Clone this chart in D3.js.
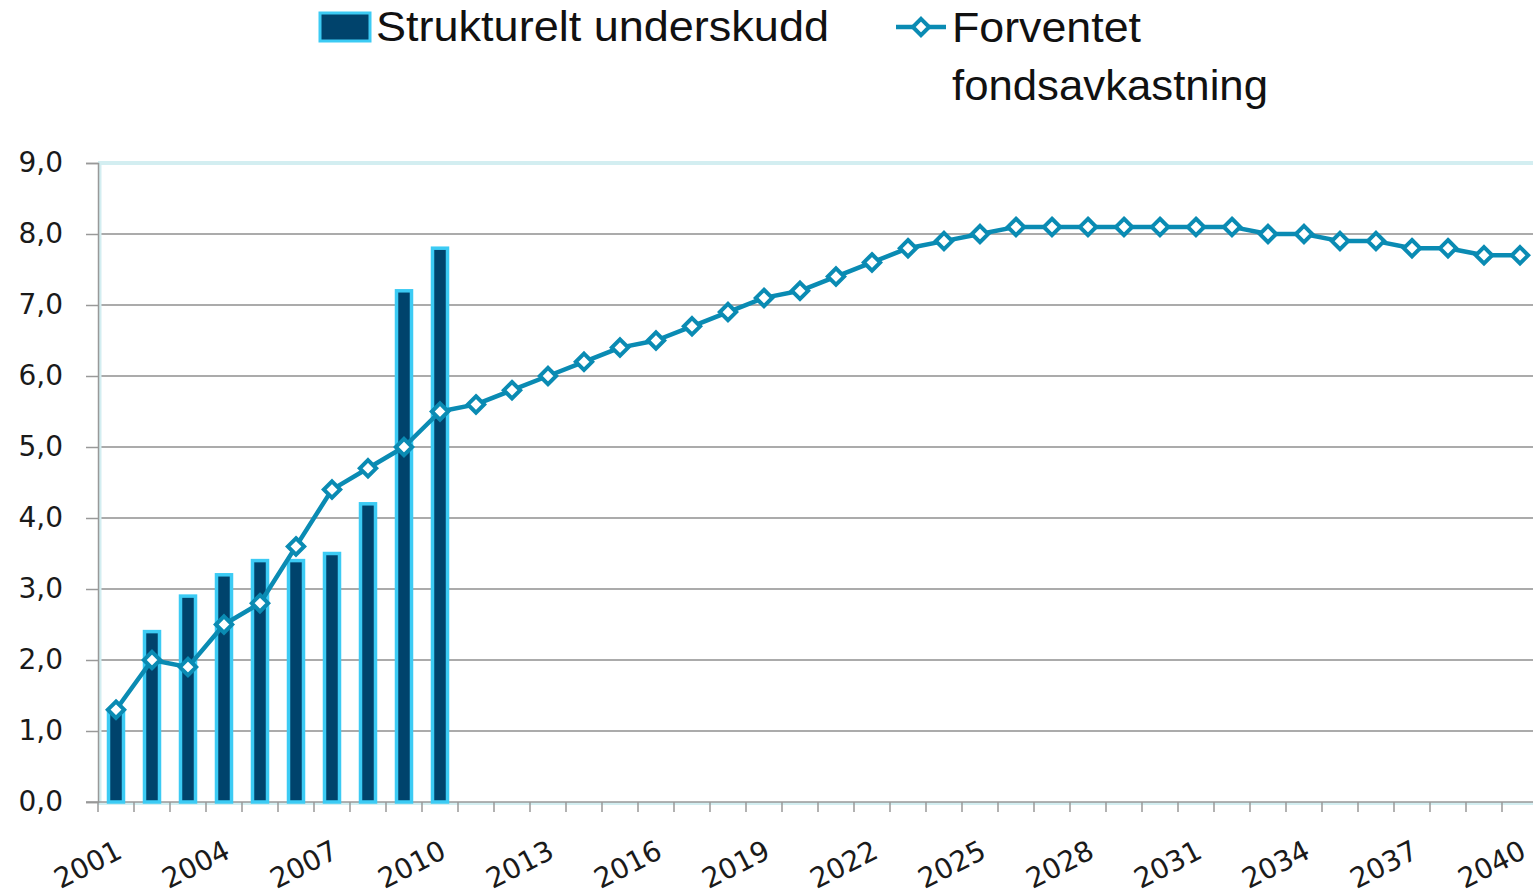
<!DOCTYPE html>
<html>
<head>
<meta charset="utf-8">
<script src="https://cdn.jsdelivr.net/npm/d3@7"></script>
<style>
  html, body { margin: 0; padding: 0; background: #fff; overflow: hidden; }
  svg { display: block; }
  .tick text { font-family: "DejaVu Sans", Verdana, sans-serif; font-size: 28px; fill: #1a1a1a; }
  .legend text { font-family: "Liberation Sans Narrow", "Liberation Sans", Arial, sans-serif; font-size: 42px; fill: #111; }
</style>
</head>
<body>
<div id="chart"></div>
<script>
// chart data
const years = d3.range(2001, 2041).map(String);
const underskudd = [1.3, 2.4, 2.9, 3.2, 3.4, 3.4, 3.5, 4.2, 7.2, 7.8];
const fondsavkastning = [
    1.3, 2.0, 1.9, 2.5, 2.8, 3.6, 4.4, 4.7, 5.0, 5.5,
    5.6, 5.8, 6.0, 6.2, 6.4, 6.5, 6.7, 6.9, 7.1, 7.2,
    7.4, 7.6, 7.8, 7.9, 8.0, 8.1, 8.1, 8.1, 8.1, 8.1,
    8.1, 8.1, 8.0, 8.0, 7.9, 7.9, 7.8, 7.8, 7.7, 7.7
];
const yTicks = [0, 1, 2, 3, 4, 5, 6, 7, 8, 9];
const xTickLabels = years.filter((y, i) => i % 3 === 0);
const legendBar = "Strukturelt underskudd";
const legendLine = ["Forventet", "fondsavkastning"];

const width = 1533, height = 896;
const margin = { top: 163, left: 98, bottom: 94 };
const plotRight = 1538;

const barFill = "#00436c", barStroke = "#3ccbf4", lineColor = "#0a8bb3";

const svg = d3.select("#chart").append("svg")
    .attr("width", width)
    .attr("height", height);

const x = d3.scaleBand()
    .domain(years)
    .range([margin.left, plotRight])
    .padding(0);

const y = d3.scaleLinear()
    .domain([0, 9])
    .range([height - margin.bottom, margin.top]);

// gridlines
svg.append("g")
    .selectAll("line")
    .data(yTicks.slice(1, -1))
    .enter().append("line")
    .attr("x1", margin.left).attr("x2", plotRight)
    .attr("y1", d => y(d)).attr("y2", d => y(d))
    .attr("stroke", "#8f8f8f").attr("stroke-width", 1.3);

// plot area border (light)
svg.append("line")
    .attr("x1", margin.left).attr("x2", plotRight)
    .attr("y1", y(9)).attr("y2", y(9))
    .attr("stroke", "#d3eef1").attr("stroke-width", 4);
svg.append("line")
    .attr("x1", margin.left + 2).attr("x2", margin.left + 2)
    .attr("y1", y(9)).attr("y2", y(0))
    .attr("stroke", "#d3eef1").attr("stroke-width", 3);
svg.append("line")
    .attr("x1", margin.left).attr("x2", plotRight)
    .attr("y1", y(0) + 1.5).attr("y2", y(0) + 1.5)
    .attr("stroke", "#d3eef1").attr("stroke-width", 3);

// Y axis
const yAxis = svg.append("g")
    .attr("transform", `translate(${margin.left},0)`)
    .call(d3.axisLeft(y).tickValues(yTicks).tickFormat(d => d3.format(".1f")(d).replace(".", ",")).tickSize(12).tickPadding(23));
yAxis.select(".domain").attr("stroke", "#999").attr("stroke-width", 1.5);
yAxis.selectAll(".tick line").attr("stroke", "#999").attr("stroke-width", 1.5);

// X axis: ticks at category boundaries
const xAxis = svg.append("g")
    .attr("transform", `translate(0,${y(0)})`);
xAxis.append("line")
    .attr("x1", margin.left - 12).attr("x2", plotRight)
    .attr("stroke", "#999").attr("stroke-width", 1.5);
xAxis.selectAll(".xtick")
    .data(years)
    .enter().append("line")
    .attr("class", "xtick")
    .attr("x1", d => x(d)).attr("x2", d => x(d))
    .attr("y1", 0).attr("y2", 10)
    .attr("stroke", "#999").attr("stroke-width", 1.5);
xAxis.selectAll(".xlab")
    .data(xTickLabels)
    .enter().append("g")
    .attr("class", "tick")
    .attr("transform", d => `translate(${x(d) + x.bandwidth() / 2 + 8},${55}) rotate(-27)`)
    .append("text")
    .attr("text-anchor", "end")
    .text(d => d);

// Bars
const barW = 15;
svg.append("g")
    .selectAll("rect")
    .data(underskudd)
    .enter().append("rect")
    .attr("x", (d, i) => x(years[i]) + x.bandwidth() / 2 - barW / 2)
    .attr("y", d => y(d))
    .attr("width", barW)
    .attr("height", d => y(0) - y(d))
    .attr("fill", barFill)
    .attr("stroke", barStroke)
    .attr("stroke-width", 3.5);

// Line
const line = d3.line()
    .x((d, i) => x(years[i]) + x.bandwidth() / 2)
    .y(d => y(d));

svg.append("path")
    .datum(fondsavkastning)
    .attr("fill", "none")
    .attr("stroke", lineColor)
    .attr("stroke-width", 4.5)
    .attr("stroke-linejoin", "round")
    .attr("d", line);

const diamond = d3.symbol().type(d3.symbolDiamond2).size(170);
svg.append("g")
    .selectAll("path")
    .data(fondsavkastning)
    .enter().append("path")
    .attr("d", diamond)
    .attr("transform", (d, i) => `translate(${x(years[i]) + x.bandwidth() / 2},${y(d)})`)
    .attr("fill", "#fff")
    .attr("stroke", lineColor)
    .attr("stroke-width", 4);

// Legend
const legend = svg.append("g").attr("class", "legend");
legend.append("rect")
    .attr("x", 320).attr("y", 13)
    .attr("width", 50).attr("height", 28)
    .attr("fill", barFill)
    .attr("stroke", barStroke)
    .attr("stroke-width", 3);
legend.append("text")
    .attr("x", 376).attr("y", 41)
    .attr("textLength", 453).attr("lengthAdjust", "spacingAndGlyphs")
    .text(legendBar);

legend.append("line")
    .attr("x1", 896).attr("x2", 946)
    .attr("y1", 27).attr("y2", 27)
    .attr("stroke", lineColor).attr("stroke-width", 4.5);
legend.append("path")
    .attr("d", diamond)
    .attr("transform", "translate(921,27)")
    .attr("fill", "#fff")
    .attr("stroke", lineColor)
    .attr("stroke-width", 4);
legend.append("text")
    .attr("x", 952).attr("y", 42)
    .attr("textLength", 189).attr("lengthAdjust", "spacingAndGlyphs")
    .text(legendLine[0]);
legend.append("text")
    .attr("x", 952).attr("y", 100)
    .attr("textLength", 316).attr("lengthAdjust", "spacingAndGlyphs")
    .text(legendLine[1]);
</script>
</body>
</html>
